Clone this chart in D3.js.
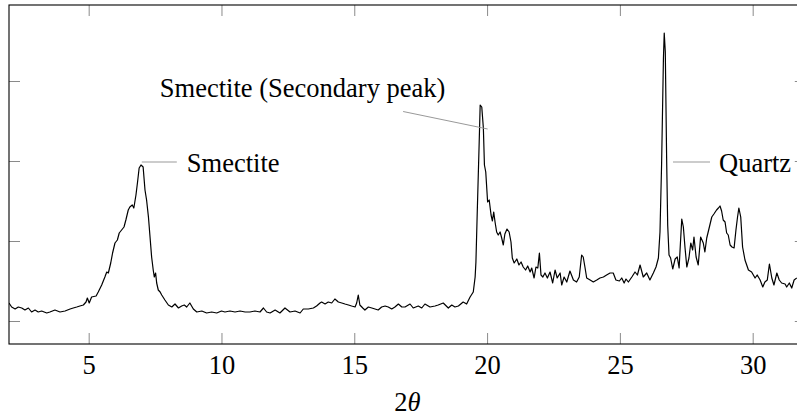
<!DOCTYPE html>
<html>
<head>
<meta charset="utf-8">
<script src="https://cdn.jsdelivr.net/npm/d3@7"></script>
<style>
  body { margin: 0; background: #fff; }
  text { font-family: "Liberation Serif", "Times New Roman", serif; fill: #000; }
</style>
</head>
<body>
<div id="chart"></div>
<script>
// diffraction pattern (intensity in arbitrary units)
const twoTheta = [
  2.00, 2.10, 2.23, 2.35, 2.48, 2.60, 2.73, 2.85, 2.98, 3.10, 3.23, 3.42, 3.54, 3.73, 3.92,
  4.11, 4.30, 4.42, 4.55, 4.67, 4.80, 4.90, 4.95, 5.02, 5.11, 5.28, 5.36, 5.49, 5.61, 5.68,
  5.74, 5.83, 5.90, 5.99, 6.08, 6.15, 6.24, 6.33, 6.40, 6.49, 6.55, 6.64, 6.70, 6.78, 6.84,
  6.90, 6.97, 7.05, 7.12, 7.18, 7.25, 7.31, 7.37, 7.43, 7.47, 7.52, 7.56, 7.62, 7.69, 7.75,
  7.87, 8.00, 8.13, 8.25, 8.38, 8.50, 8.60, 8.69, 8.81, 8.94, 9.07, 9.26, 9.44, 9.63, 9.82,
  10.00, 10.13, 10.32, 10.51, 10.70, 10.89, 11.07, 11.26, 11.45, 11.58, 11.70, 11.83, 12.02, 12.20, 12.39,
  12.58, 12.77, 12.96, 13.08, 13.27, 13.46, 13.58, 13.71, 13.77, 13.90, 14.02, 14.15, 14.27, 14.40, 14.53,
  14.65, 14.78, 14.90, 15.03, 15.09, 15.15, 15.21, 15.32, 15.40, 15.53, 15.66, 15.78, 15.90, 16.03, 16.16,
  16.28, 16.41, 16.53, 16.66, 16.79, 16.91, 17.10, 17.22, 17.41, 17.54, 17.66, 17.85, 18.04, 18.16, 18.35,
  18.54, 18.67, 18.79, 18.92, 19.10, 19.23, 19.36, 19.48, 19.55, 19.58, 19.63, 19.70, 19.74, 19.80, 19.86,
  19.90, 19.95, 20.02, 20.08, 20.15, 20.20, 20.25, 20.30, 20.36, 20.42, 20.49, 20.55, 20.61, 20.67, 20.75,
  20.83, 20.90, 20.95, 21.02, 21.12, 21.20, 21.28, 21.36, 21.45, 21.53, 21.62, 21.68, 21.77, 21.84, 21.91,
  21.97, 22.03, 22.10, 22.18, 22.27, 22.37, 22.47, 22.56, 22.64, 22.75, 22.81, 22.90, 23.00, 23.12, 23.25,
  23.37, 23.47, 23.56, 23.62, 23.69, 23.75, 23.88, 24.00, 24.13, 24.25, 24.38, 24.50, 24.63, 24.75, 24.85,
  24.98, 25.07, 25.16, 25.23, 25.32, 25.45, 25.57, 25.66, 25.76, 25.88, 26.01, 26.13, 26.26, 26.36, 26.45,
  26.51, 26.57, 26.64, 26.67, 26.71, 26.76, 26.80, 26.85, 26.91, 26.99, 27.08, 27.16, 27.23, 27.28, 27.33,
  27.39, 27.45, 27.52, 27.60, 27.67, 27.74, 27.79, 27.87, 27.95, 28.04, 28.14, 28.20, 28.27, 28.37, 28.46,
  28.54, 28.64, 28.71, 28.77, 28.83, 28.89, 28.96, 29.02, 29.08, 29.15, 29.22, 29.30, 29.37, 29.43, 29.48,
  29.55, 29.62, 29.71, 29.84, 29.96, 30.09, 30.17, 30.28, 30.38, 30.46, 30.55, 30.63, 30.72, 30.80, 30.91,
  31.00, 31.09, 31.22, 31.28, 31.38, 31.47, 31.56, 31.66
];
const intensity = [
  38, 34, 32, 34, 33, 31, 33, 29, 31, 29, 30, 28, 29, 31, 29,
  30, 32, 33, 34, 35, 36, 39, 43, 38, 44, 45, 49, 56, 64, 69,
  68, 78, 88, 98, 101, 108, 111, 114, 121, 131, 134, 136, 133, 146, 159,
  173, 176, 174, 151, 141, 124, 104, 84, 71, 64, 68, 58, 51, 49, 46,
  41, 36, 34, 37, 33, 35, 36, 34, 38, 32, 29, 30, 28, 29, 28,
  30, 29, 30, 29, 30, 29, 29, 30, 29, 33, 29, 28, 31, 28, 33,
  29, 30, 28, 32, 32, 33, 35, 38, 39, 37, 39, 38, 42, 39, 38,
  37, 36, 35, 34, 38, 46, 36, 33, 31, 34, 33, 32, 31, 34, 35,
  34, 32, 34, 37, 34, 34, 37, 33, 35, 33, 37, 34, 35, 36, 38,
  33, 36, 34, 35, 39, 37, 44, 49, 64, 79, 129, 196, 236, 234, 213,
  176, 169, 139, 141, 126, 120, 129, 119, 109, 106, 109, 103, 96, 107, 112,
  109, 99, 83, 78, 82, 76, 79, 74, 71, 75, 69, 73, 63, 74, 73,
  88, 66, 64, 68, 63, 69, 58, 71, 63, 68, 56, 64, 59, 70, 61,
  59, 64, 86, 84, 73, 63, 61, 59, 61, 63, 64, 66, 68, 68, 61,
  60, 63, 58, 62, 59, 64, 69, 66, 76, 64, 68, 61, 68, 74, 83,
  109, 176, 283, 308, 289, 183, 116, 86, 83, 72, 82, 84, 73, 98, 122,
  114, 94, 74, 83, 98, 91, 104, 84, 76, 104, 98, 89, 103, 114, 124,
  127, 131, 133, 135, 130, 121, 119, 108, 106, 96, 94, 93, 111, 124, 133,
  124, 94, 81, 71, 69, 63, 66, 61, 54, 59, 61, 77, 63, 56, 68,
  61, 58, 57, 54, 58, 53, 61, 63
];

const xTicks = [5, 10, 15, 20, 25, 30];
const yTicks = [20, 100, 180, 260];

// pins: label, anchor in data coordinates
const pinLabels = ["Smectite", "Smectite (Secondary peak)", "Quartz"];
const pinX = [7.0, 20.02, 27.0];
const pinY = [179, 212, 179];

const W = 797, H = 417;
const plot = { left: 9, right: 805.8, top: 5, bottom: 344 };
const fontSize = 26.5;

const svg = d3.select("#chart").append("svg")
  .attr("width", W)
  .attr("height", H);

const x = d3.scaleLinear().domain([2, 32]).range([plot.left, plot.right]);
const y = d3.scaleLinear().domain([-3, 336]).range([plot.bottom, plot.top]);

svg.append("defs").append("clipPath").attr("id", "clip")
  .append("rect")
  .attr("x", plot.left).attr("y", plot.top)
  .attr("width", plot.right - plot.left).attr("height", plot.bottom - plot.top);

// ticks on all four sides, pointing inwards
const tickLen = 11;
const axes = [
  { ax: d3.axisBottom(x).tickValues(xTicks), t: `translate(0,${plot.bottom})`, labels: true },
  { ax: d3.axisTop(x).tickValues(xTicks), t: `translate(0,${plot.top})` },
  { ax: d3.axisLeft(y).tickValues(yTicks), t: `translate(${plot.left},0)` },
  { ax: d3.axisRight(y).tickValues(yTicks), t: `translate(${plot.right},0)` },
];
axes.forEach((a) => {
  a.ax.tickSizeInner(-tickLen).tickSizeOuter(0).tickPadding(11);
  if (!a.labels) a.ax.tickFormat("");
  const g = svg.append("g").attr("transform", a.t).call(a.ax);
  g.select(".domain").remove();
  g.selectAll(".tick line").attr("stroke", "#8a8a8a").attr("stroke-width", 1);
  g.selectAll(".tick text")
    .attr("fill", "#000")
    .style("font-family", '"Liberation Serif", serif')
    .style("font-size", fontSize + "px");
});

// frame
svg.append("rect")
  .attr("x", plot.left).attr("y", plot.top)
  .attr("width", plot.right - plot.left).attr("height", plot.bottom - plot.top)
  .attr("fill", "none").attr("stroke", "#000").attr("stroke-width", 1.1);

// pattern
const points = twoTheta.map((t, i) => [t, intensity[i]]);
const line = d3.line().x((d) => x(d[0])).y((d) => y(d[1]));
svg.append("path")
  .datum(points)
  .attr("clip-path", "url(#clip)")
  .attr("d", line)
  .attr("fill", "none")
  .attr("stroke", "#000")
  .attr("stroke-width", 1.2)
  .attr("stroke-linejoin", "round");

// pin geometry (pixels, relative to anchor)
const pinStyle = [
  { lx: 35, ly: 0, tx: 45, ty: 9.5, anchor: "start" },
  { lx: -84.5, ly: -17.5, tx: -185, ty: -32, anchor: "middle" },
  { lx: 37, ly: 0, tx: 46, ty: 9.5, anchor: "start" },
];
pinLabels.forEach((lab, i) => {
  const px = x(pinX[i]), py = y(pinY[i]), s = pinStyle[i];
  svg.append("line")
    .attr("x1", px).attr("y1", py)
    .attr("x2", px + s.lx).attr("y2", py + s.ly)
    .attr("stroke", "#999").attr("stroke-width", 1);
  svg.append("text")
    .attr("x", px + s.tx).attr("y", py + s.ty)
    .attr("text-anchor", s.anchor)
    .style("font-size", fontSize + "px")
    .text(lab);
});

// axis label
const xl = svg.append("text")
  .attr("x", (plot.left + plot.right) / 2)
  .attr("y", 411)
  .attr("text-anchor", "middle")
  .style("font-size", fontSize + "px");
xl.append("tspan").text("2");
xl.append("tspan").style("font-style", "italic").text("θ");
</script>
</body>
</html>
